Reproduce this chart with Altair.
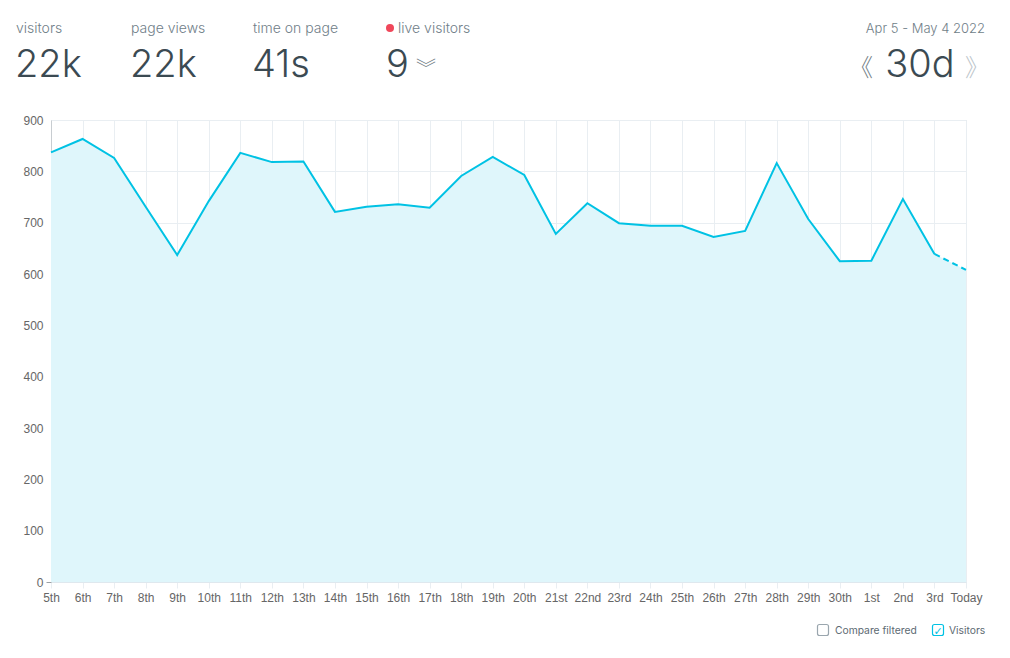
import altair as alt
import pandas as pd

labels = ["5th", "6th", "7th", "8th", "9th", "10th", "11th", "12th", "13th", "14th",
          "15th", "16th", "17th", "18th", "19th", "20th", "21st", "22nd", "23rd", "24th",
          "25th", "26th", "27th", "28th", "29th", "30th", "1st", "2nd", "3rd", "Today"]
visitors = [837, 863, 826, 731, 637, 742, 836, 818, 819, 721,
            731, 736, 729, 791, 828, 793, 678, 738, 699, 694,
            694, 672, 684, 816, 707, 625, 626, 746, 639, 608]

df = pd.DataFrame({"label": labels, "value": visitors, "idx": list(range(len(labels)))})
n = len(labels)

LINE = "#00c2e4"
FILL = "#dff6fb"
GRID = "#e9eef2"
DARK = "#3b4a52"
MUTED = "#707e88"
UIFONT = "Inter"

x_enc = alt.X("label:N", sort=labels, scale=alt.Scale(type="point", padding=0),
              axis=alt.Axis(title=None, labelAngle=0, grid=True, gridColor=GRID,
                            domainColor="#dfe8ee", tickColor=GRID, tickSize=6,
                            labelPadding=4, labelColor="#666", labelFontSize=12,
                            labelFont="Liberation Sans"))
y_enc = alt.Y("value:Q", scale=alt.Scale(domain=[0, 900], nice=False),
              axis=alt.Axis(title=None, values=list(range(0, 901, 100)), grid=True,
                            gridColor=GRID, domainColor="#c8cdd1", tickSize=5,
                            tickColor=alt.expr("datum.value == 0 ? '#9aa0a4' : 'transparent'"),
                            labelPadding=3, labelColor="#666", labelFontSize=12,
                            labelFont="Liberation Sans"))

base = alt.Chart(df)
area = base.mark_area(color=FILL, opacity=1).encode(x=x_enc, y=y_enc)
solid = base.transform_filter(f"datum.idx <= {n-2}").mark_line(color=LINE, strokeWidth=2).encode(
    x=alt.X("label:N", sort=labels), y="value:Q")
dashed = base.transform_filter(f"datum.idx >= {n-2}").mark_line(
    color=LINE, strokeWidth=2, strokeDash=[6, 4]).encode(x=alt.X("label:N", sort=labels), y="value:Q")

one = pd.DataFrame({"a": [0]})


def txt(text, x, y, size, color, align="left", font=UIFONT, weight=400):
    return alt.Chart(one).mark_text(text=text, align=align, baseline="alphabetic",
                                    fontSize=size, color=color, font=font,
                                    fontWeight=weight).encode(x=alt.value(x), y=alt.value(y))


OX, OY = 51, 120  # plot origin in page pixels
layers = [area, solid, dashed]
header = [
    ("visitors", 16, 33, 14, MUTED),
    ("page views", 131, 33, 14, MUTED),
    ("time on page", 253, 33, 14, MUTED),
    ("live visitors", 398, 33, 14, MUTED),
    ("22k", 15, 77, 38, DARK),
    ("22k", 130, 77, 38, DARK),
    ("41s", 252, 77, 38, DARK),
    ("9", 386, 77, 38, DARK),
]
for t, x, y, s, c in header:
    layers.append(txt(t, x - OX, y - OY, s, c, weight=300))
layers.append(txt("Apr 5 - May 4 2022", 985 - OX, 33 - OY, 13, MUTED, align="right", weight=300))
layers.append(txt("30d", 920 - OX, 77 - OY, 38, DARK, align="center", weight=300))
layers.append(txt("《", 861 - OX, 76 - OY, 24, "#6f7b83", align="center", font="Noto Sans CJK SC", weight=300))
layers.append(txt("》", 977 - OX, 76 - OY, 24, "#b9c2c8", align="center", font="Noto Sans CJK SC", weight=300))
layers.append(txt("︾", 426 - OX, 76 - OY, 20, "#6f7b83", align="center", font="Noto Sans CJK SC", weight=300))
# live dot
layers.append(alt.Chart(one).mark_circle(color="#f0475a", opacity=1, size=64).encode(
    x=alt.value(390 - OX), y=alt.value(28 - OY)))
# legend checkboxes
for bx in (823, 938):
    col = "#9aa6ae" if bx == 823 else LINE
    layers.append(alt.Chart(one).mark_rect(filled=False, stroke=col, strokeWidth=1.2,
                                           cornerRadius=2).encode(
        x=alt.value(bx - 5.5 - OX), x2=alt.value(bx + 5.5 - OX),
        y=alt.value(630 - 5.5 - OY), y2=alt.value(630 + 5.5 - OY)))
layers.append(txt("✓", 938 - OX, 634.5 - OY, 11, LINE, align="center", font="DejaVu Sans"))
layers.append(txt("Compare filtered", 835 - OX, 634 - OY, 10.3, "#5d6a72"))
layers.append(txt("Visitors", 949 - OX, 634 - OY, 10.3, "#5d6a72"))

chart = alt.layer(*layers).properties(
    width=915, height=462,
    autosize=alt.AutoSizeParams(type="none"),
    padding={"left": OX, "top": OY, "right": 1010 - OX - 915, "bottom": 658 - OY - 462},
).configure_view(stroke=None).configure(background="white")

chart.save("out.html", embed_options={"renderer": "svg", "actions": False})
